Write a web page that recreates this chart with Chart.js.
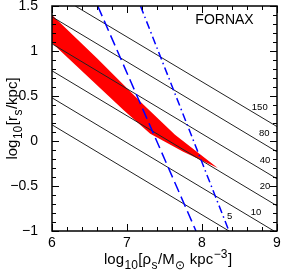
<!DOCTYPE html>
<html>
<head>
<meta charset="utf-8">
<script src="https://cdn.jsdelivr.net/npm/chart.js@4.4.0/dist/chart.umd.min.js"></script>
<style>
  html, body { margin: 0; padding: 0; background: #fff; }
</style>
</head>
<body>
<canvas id="myChart" width="284" height="273"></canvas>
<script>
// iso-velocity lines, end points
const isoNames = ['5', '10', '20', '40', '80', '150'];
const isoStartX = [6, 6, 6, 6, 6, 6.31];
const isoStartY = [0.18, 0.48, 0.78, 1.08, 1.38, 1.5];
const isoEndX = [8.36, 8.96, 9, 9, 9, 9];
const isoEndY = [-1, -1, -0.72, -0.42, -0.12, 0.16];
// where the numbers are written
const isoLabelX = [8.37, 8.72, 8.84, 8.84, 8.83, 8.77];
const isoLabelY = [-0.84, -0.79, -0.5, -0.21, 0.09, 0.37];

// Fornax region: upper edge left to right, then lower edge back
const bandX = [6, 6.6, 7.2, 7.64, 8.21, 7.75, 7.31, 6.96, 6];
const bandY = [1.4, 0.92, 0.42, 0.07, -0.3, -0.12, 0.08, 0.34, 1.09];

// blue lines
const dashX = [6.61, 7.92];
const dashY = [1.5, -1];
const dotDashX = [7.18, 8.36];
const dotDashY = [1.5, -1];

const xTicks = [6, 7, 8, 9];
const yTicks = [-1, -0.5, 0, 0.5, 1, 1.5];

const FONT = '"Liberation Sans", Arial, sans-serif';

function pts(xs, ys) {
  return xs.map(function(x, i) { return {x: x, y: ys[i]}; });
}

var datasets = [];
datasets.push({
  data: pts(bandX, bandY),
  backgroundColor: '#ff0000',
  borderWidth: 0,
  fill: 'shape',
  pointRadius: 0,
  order: 3
});
for (var i = 0; i < isoNames.length; i++) {
  datasets.push({
    label: isoNames[i],
    data: pts([isoStartX[i], isoEndX[i]], [isoStartY[i], isoEndY[i]]),
    borderColor: '#222',
    borderWidth: 1,
    pointRadius: 0,
    fill: false,
    order: 2
  });
}
datasets.push({
  data: pts(dashX, dashY),
  borderColor: '#0000ff',
  borderWidth: 1.5,
  borderDash: [11, 5],
  pointRadius: 0,
  fill: false,
  order: 1
});
datasets.push({
  data: pts(dotDashX, dotDashY),
  borderColor: '#0000ff',
  borderWidth: 1.5,
  borderDash: [8, 3.5, 1.5, 3.5],
  pointRadius: 0,
  fill: false,
  order: 1
});

// draws text made of pieces, some sub/superscript, centred on cx, baseline y
function drawRich(ctx, parts, cx, y, size) {
  var small = size * 0.8;
  var widths = parts.map(function(p) {
    ctx.font = (p.sub || p.sup ? small : size) + 'px ' + FONT;
    return ctx.measureText(p.t).width + (p.sub || p.sup ? 1 : 0);
  });
  var total = widths.reduce(function(a, b) { return a + b; }, 0);
  var x = cx - total / 2;
  parts.forEach(function(p, i) {
    ctx.font = (p.sub || p.sup ? small : size) + 'px ' + FONT;
    var dy = p.sub ? size * 0.3 : (p.sup ? -size * 0.4 : 0);
    ctx.fillText(p.t, x + (p.sub || p.sup ? 0.5 : 0), y + dy);
    x += widths[i];
  });
}

const decor = {
  id: 'decor',
  afterDatasetsDraw(chart) {
    var ctx = chart.ctx, a = chart.chartArea;
    var xs = chart.scales.x, ys = chart.scales.y;
    ctx.save();
    ctx.strokeStyle = '#000';
    ctx.lineWidth = 1;
    ctx.beginPath();
    for (var i = 0; i <= 15; i++) {
      var px = Math.round(xs.getPixelForValue(6 + i * 0.2)) + 0.5;
      var len = i % 5 === 0 ? 7 : 4;
      ctx.moveTo(px, a.bottom); ctx.lineTo(px, a.bottom - len);
      ctx.moveTo(px, a.top); ctx.lineTo(px, a.top + len);
    }
    for (var j = 0; j <= 25; j++) {
      var py = Math.round(ys.getPixelForValue(-1 + j * 0.1)) + 0.5;
      var l2 = j % 5 === 0 ? 7 : 4;
      ctx.moveTo(a.left, py); ctx.lineTo(a.left + l2, py);
      ctx.moveTo(a.right, py); ctx.lineTo(a.right - l2, py);
    }
    ctx.stroke();
    ctx.lineWidth = 1.5;
    ctx.strokeRect(a.left, a.top, a.right - a.left, a.bottom - a.top);

    ctx.fillStyle = '#000';
    ctx.textAlign = 'center';
    ctx.textBaseline = 'middle';
    ctx.font = '9.5px ' + FONT;
    for (var k = 0; k < isoNames.length; k++) {
      ctx.fillText(isoNames[k], xs.getPixelForValue(isoLabelX[k]), ys.getPixelForValue(isoLabelY[k]));
    }
    ctx.font = '14px ' + FONT;
    ctx.fillText('FORNAX', 224.5, 20);

    ctx.textBaseline = 'alphabetic';
    ctx.textAlign = 'left';
    drawRich(ctx, [
      {t: 'log'}, {t: '10', sub: true}, {t: '[\u03c1'}, {t: 's', sub: true},
      {t: '/M'}, {t: '\u2299', sub: true}, {t: ' kpc'}, {t: '\u22123', sup: true}, {t: ']'}
    ], 168, 264, 15);

    ctx.translate(17, (a.top + a.bottom) / 2);
    ctx.rotate(-Math.PI / 2);
    drawRich(ctx, [
      {t: 'log'}, {t: '10', sub: true}, {t: '[r'}, {t: 's', sub: true}, {t: '/kpc]'}
    ], 0, 0, 15);
    ctx.restore();
  }
};

var ctx = document.getElementById('myChart').getContext('2d');
var chart = new Chart(ctx, {
  type: 'line',
  data: { datasets: datasets },
  options: {
    responsive: false,
    animation: false,
    layout: { padding: { top: 6, right: 7, left: 0, bottom: 0 }, autoPadding: false },
    plugins: { legend: { display: false }, tooltip: { enabled: false } },
    scales: {
      x: {
        type: 'linear', min: 6, max: 9,
        grid: { display: false, drawTicks: false },
        border: { display: false },
        ticks: { color: '#000', font: { family: FONT, size: 14 }, padding: 4 },
        afterBuildTicks: function(s) { s.ticks = xTicks.map(function(v) { return {value: v}; }); },
        afterFit: function(s) { s.height = 42; s.paddingLeft = 0; s.paddingRight = 0; }
      },
      y: {
        type: 'linear', min: -1, max: 1.5,
        grid: { display: false, drawTicks: false },
        border: { display: false },
        ticks: {
          color: '#000', font: { family: FONT, size: 14 }, padding: 14,
          callback: function(v) { return String(v).replace('-', '\u2212'); }
        },
        afterBuildTicks: function(s) { s.ticks = yTicks.map(function(v) { return {value: v}; }); },
        afterFit: function(s) { s.width = 52; s.paddingTop = 0; s.paddingBottom = 0; }
      }
    }
  },
  plugins: [decor]
});
</script>
</body>
</html>
